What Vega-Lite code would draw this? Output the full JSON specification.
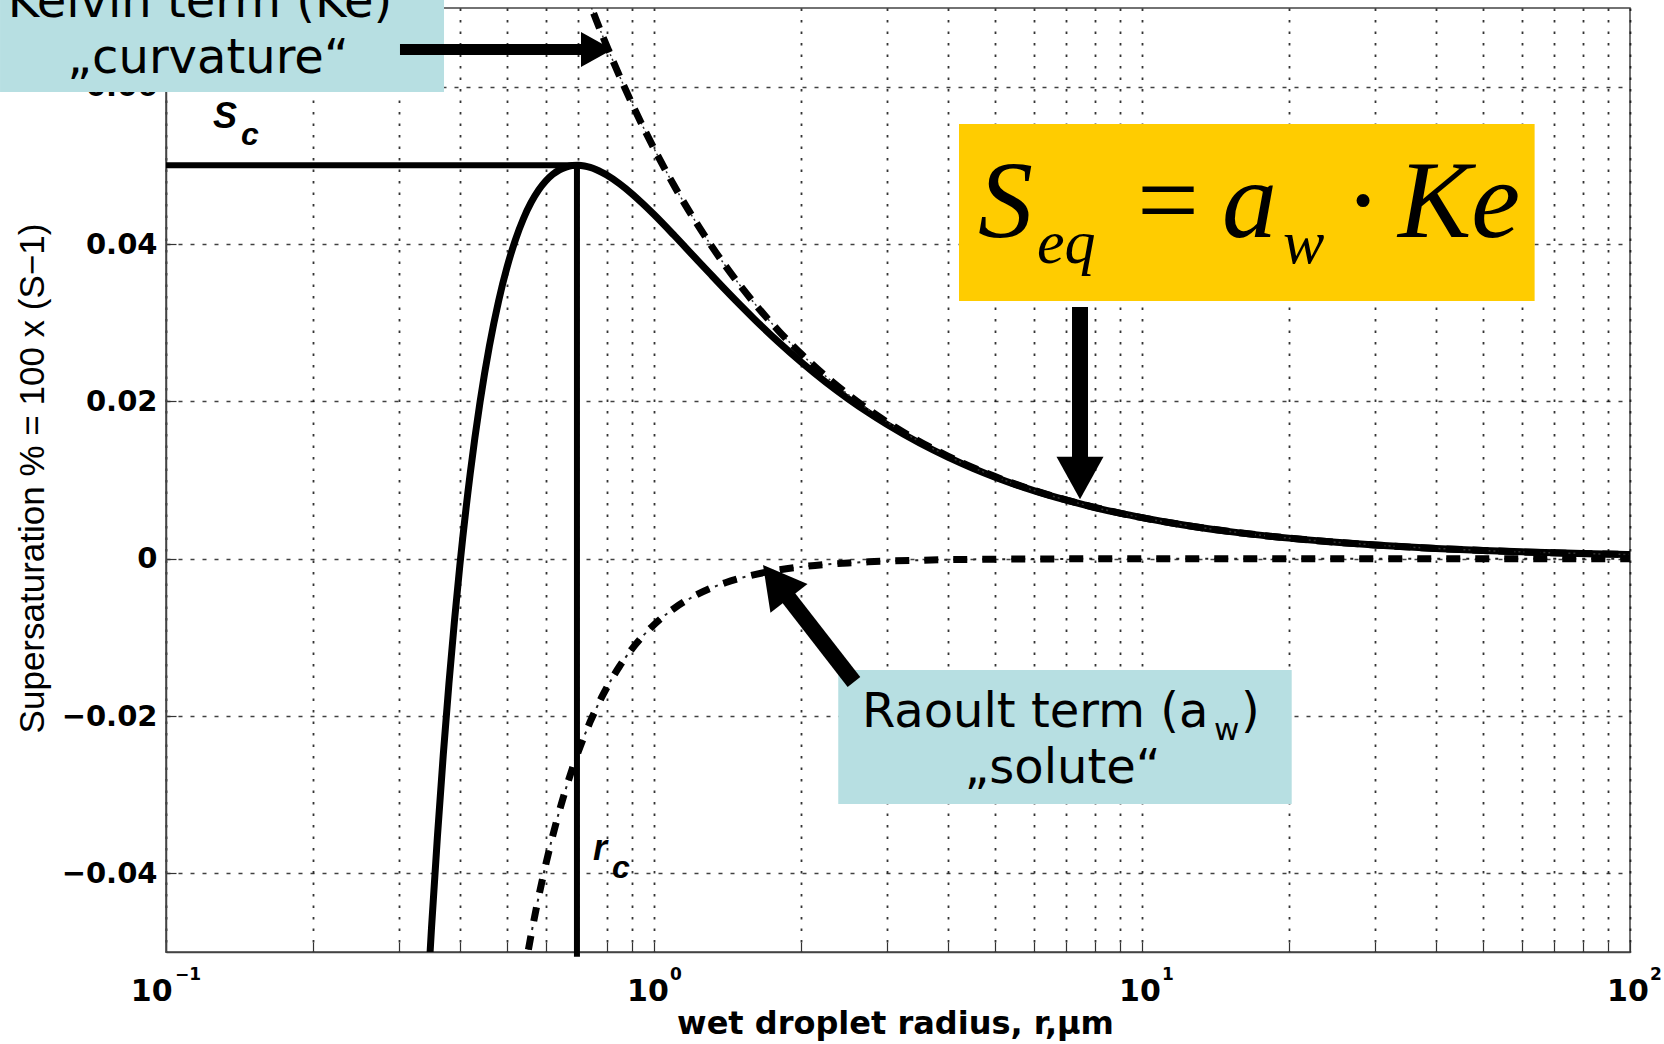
{
  "$schema": "https://vega.github.io/schema/vega-lite/v6.json",
  "width": 1464,
  "height": 944,
  "autosize": {"type": "none"},
  "padding": {"left": 166, "top": 8, "right": 34, "bottom": 92},
  "background": "white",
  "config": {"view": {"stroke": "#444", "strokeWidth": 1.5}},
  "datasets": {
    "kohler": [
      {"r":0.34,"s":-0.06037},{"r":0.35,"s":-0.04695},{"r":0.36,"s":-0.03521},{"r":0.37,"s":-0.02491},{"r":0.38,"s":-0.01587},{"r":0.39,"s":-0.00792},{"r":0.40,"s":-0.00090},{"r":0.42,"s":0.01076},{"r":0.44,"s":0.01989},{"r":0.46,"s":0.02705},{"r":0.48,"s":0.03267},{"r":0.50,"s":0.03708},{"r":0.52,"s":0.04053},{"r":0.54,"s":0.04321},{"r":0.56,"s":0.04528},{"r":0.58,"s":0.04685},{"r":0.60,"s":0.04801},{"r":0.62,"s":0.04885},{"r":0.64,"s":0.04943},{"r":0.66,"s":0.04978},{"r":0.68,"s":0.04997},{"r":0.70,"s":0.05000},{"r":0.72,"s":0.04991},{"r":0.74,"s":0.04973},{"r":0.76,"s":0.04947},{"r":0.78,"s":0.04915},{"r":0.80,"s":0.04877},{"r":0.85,"s":0.04766},{"r":0.90,"s":0.04641},{"r":0.95,"s":0.04508},{"r":1.0,"s":0.04374},{"r":1.1,"s":0.04109},{"r":1.2,"s":0.03859},{"r":1.3,"s":0.03629},{"r":1.4,"s":0.03418},{"r":1.5,"s":0.03227},{"r":1.6,"s":0.03054},{"r":1.8,"s":0.02753},{"r":2.0,"s":0.02502},{"r":2.25,"s":0.02243},{"r":2.5,"s":0.02032},{"r":2.75,"s":0.01856},{"r":3.0,"s":0.01707},{"r":3.5,"s":0.01470},{"r":4,"s":0.01291},{"r":4.5,"s":0.01150},{"r":5,"s":0.01036},{"r":6,"s":0.00865},{"r":7,"s":0.00743},{"r":8,"s":0.00650},{"r":9,"s":0.00578},{"r":10,"s":0.00521},{"r":12,"s":0.00434},{"r":15,"s":0.00347},{"r":20,"s":0.00261},{"r":25,"s":0.00209},{"r":30,"s":0.00174},{"r":40,"s":0.00130},{"r":50,"s":0.00104},{"r":60,"s":0.00087},{"r":70,"s":0.00075},{"r":80,"s":0.00065},{"r":100,"s":0.00052}
    ],
    "kelvin": [
      {"r":0.72,"s":0.07242},{"r":0.74,"s":0.07046},{"r":0.76,"s":0.06861},{"r":0.78,"s":0.06685},{"r":0.80,"s":0.06518},{"r":0.85,"s":0.06134},{"r":0.90,"s":0.05793},{"r":0.95,"s":0.05488},{"r":1.0,"s":0.05214},{"r":1.1,"s":0.04740},{"r":1.2,"s":0.04345},{"r":1.3,"s":0.04011},{"r":1.4,"s":0.03724},{"r":1.5,"s":0.03476},{"r":1.6,"s":0.03259},{"r":1.8,"s":0.02897},{"r":2.0,"s":0.02607},{"r":2.25,"s":0.02317},{"r":2.5,"s":0.02086},{"r":2.75,"s":0.01896},{"r":3.0,"s":0.01738},{"r":3.5,"s":0.01490},{"r":4,"s":0.01304},{"r":5,"s":0.01043},{"r":6,"s":0.00869},{"r":8,"s":0.00652},{"r":10,"s":0.00521},{"r":15,"s":0.00348},{"r":20,"s":0.00261},{"r":30,"s":0.00174},{"r":50,"s":0.00104},{"r":100,"s":0.00052}
    ],
    "raoult": [
      {"r":0.54,"s":-0.05335},{"r":0.56,"s":-0.04783},{"r":0.58,"s":-0.04305},{"r":0.60,"s":-0.03889},{"r":0.62,"s":-0.03525},{"r":0.64,"s":-0.03204},{"r":0.66,"s":-0.02922},{"r":0.68,"s":-0.02671},{"r":0.70,"s":-0.02449},{"r":0.72,"s":-0.02251},{"r":0.74,"s":-0.02073},{"r":0.76,"s":-0.01914},{"r":0.78,"s":-0.01770},{"r":0.80,"s":-0.01641},{"r":0.85,"s":-0.01368},{"r":0.90,"s":-0.01152},{"r":0.95,"s":-0.00980},{"r":1.0,"s":-0.00840},{"r":1.1,"s":-0.00631},{"r":1.2,"s":-0.00486},{"r":1.3,"s":-0.00382},{"r":1.4,"s":-0.00306},{"r":1.5,"s":-0.00249},{"r":1.6,"s":-0.00205},{"r":1.8,"s":-0.00144},{"r":2.0,"s":-0.00105},{"r":2.25,"s":-0.00074},{"r":2.5,"s":-0.00054},{"r":2.75,"s":-0.00040},{"r":3.0,"s":-0.00031},{"r":3.5,"s":-0.00020},{"r":4,"s":-0.00013},{"r":5,"s":-0.00007},{"r":6,"s":-0.00004},{"r":8,"s":-0.00002},{"r":10,"s":-0.00001},{"r":20,"s":0},{"r":50,"s":0},{"r":100,"s":0}
    ]
  },
  "layer": [
    {
      "data": {"name": "kohler"},
      "mark": {"type": "line", "color": "black", "strokeWidth": 7, "clip": true, "interpolate": "monotone"},
      "encoding": {
        "x": {
          "field": "r", "type": "quantitative",
          "scale": {"type": "log", "domain": [0.1, 100], "nice": false},
          "axis": {
            "values": [0.1,0.2,0.3,0.4,0.5,0.6,0.7,0.8,0.9,1,2,3,4,5,6,7,8,9,10,20,30,40,50,60,70,80,90,100],
            "labels": false,
            "tickSize": -10, "tickColor": "#333", "tickWidth": 1.2,
            "grid": true, "gridColor": "#111", "gridDash": [2.5, 9], "gridWidth": 1.8, "gridOpacity": 0.85,
            "domainColor": "#444", "domainWidth": 1.5,
            "title": "wet droplet radius, r,µm", "titleFont": "DejaVu Sans", "titleFontWeight": "bold", "titleFontSize": 32, "titleColor": "black",
            "titleX": 729, "titleY": 81, "titleBaseline": "alphabetic", "titleAlign": "center"
          }
        },
        "y": {
          "field": "s", "type": "quantitative",
          "scale": {"domain": [-0.05, 0.07], "nice": false, "zero": false},
          "axis": {
            "values": [-0.04, -0.02, 0, 0.02, 0.04, 0.06],
            "labelExpr": "datum.value == 0 ? '0' : format(datum.value, '.2f')",
            "labelFont": "DejaVu Sans", "labelFontWeight": "bold", "labelFontSize": 29, "labelColor": "black",
            "labelPadding": 19, "labelFlush": false, "labelOverlap": false,
            "tickSize": -10, "tickColor": "#333", "tickWidth": 1.2,
            "grid": true, "gridColor": "#111", "gridDash": [4, 8], "gridWidth": 1.5, "gridOpacity": 0.8,
            "domainColor": "#444", "domainWidth": 1.5,
            "title": "Supersaturation % = 100 x (S−1)", "titleFont": "Liberation Sans", "titleFontWeight": "normal", "titleFontSize": 35, "titleColor": "black",
            "titleAngle": -90, "titleX": -123, "titleY": 470, "titleBaseline": "alphabetic", "titleAlign": "center"
          }
        }
      }
    },
    {
      "data": {"values": [
        {"x": 0.09348, "y": -0.056193, "t": "10"},
        {"x": 0.97207, "y": -0.056193, "t": "10"},
        {"x": 9.9060, "y": -0.056193, "t": "10"},
        {"x": 99.06, "y": -0.056193, "t": "10"}
      ]},
      "mark": {"type": "text", "font": "DejaVu Sans", "fontWeight": "bold", "fontSize": 30, "align": "center", "baseline": "alphabetic", "color": "black"},
      "encoding": {"x": {"field": "x", "type": "quantitative"}, "y": {"field": "y", "type": "quantitative"}, "text": {"field": "t"}}
    },
    {
      "data": {"values": [
        {"x": 0.10434, "y": -0.053559, "t": "−1"},
        {"x": 1.0784, "y": -0.053559, "t": "0"},
        {"x": 10.989, "y": -0.053559, "t": "1"},
        {"x": 109.89, "y": -0.053559, "t": "2"}
      ]},
      "mark": {"type": "text", "font": "DejaVu Sans", "fontWeight": "bold", "fontSize": 17, "align": "left", "baseline": "alphabetic", "color": "black"},
      "encoding": {"x": {"field": "x", "type": "quantitative"}, "y": {"field": "y", "type": "quantitative"}, "text": {"field": "t"}}
    },
    {
      "data": {"name": "kelvin"},
      "mark": {"type": "line", "color": "#333", "strokeWidth": 1.5, "strokeDash": [2, 3], "clip": true, "interpolate": "monotone"},
      "encoding": {"x": {"field": "r", "type": "quantitative"}, "y": {"field": "s", "type": "quantitative"}}
    },
    {
      "data": {"name": "kelvin"},
      "mark": {"type": "line", "color": "black", "strokeWidth": 7, "strokeDash": [16, 10], "clip": true, "interpolate": "monotone"},
      "encoding": {"x": {"field": "r", "type": "quantitative"}, "y": {"field": "s", "type": "quantitative"}}
    },
    {
      "data": {"name": "raoult"},
      "mark": {"type": "line", "color": "#222", "strokeWidth": 2, "strokeDash": [14, 6, 3, 6], "clip": true, "interpolate": "monotone"},
      "encoding": {"x": {"field": "r", "type": "quantitative"}, "y": {"field": "s", "type": "quantitative"}}
    },
    {
      "data": {"name": "raoult"},
      "mark": {"type": "line", "color": "black", "strokeWidth": 7, "strokeDash": [14, 15], "clip": true, "interpolate": "monotone"},
      "encoding": {"x": {"field": "r", "type": "quantitative"}, "y": {"field": "s", "type": "quantitative"}}
    },
    {
      "data": {"values": [
        {"x": 0.1, "y": 0.05, "x2": 0.6952, "y2": 0.05},
        {"x": 0.6952, "y": 0.05, "x2": 0.6952, "y2": -0.0506}
      ]},
      "mark": {"type": "rule", "color": "black", "strokeWidth": 6, "strokeCap": "butt"},
      "encoding": {"x": {"field": "x", "type": "quantitative"}, "y": {"field": "y", "type": "quantitative"}, "x2": {"field": "x2"}, "y2": {"field": "y2"}}
    },
    {
      "data": {"values": [
        {"box": "kelvin", "x": 0.0457, "x2": 0.3713, "y": 0.07229, "y2": 0.05932},
        {"box": "raoult", "x": 2.3854, "x2": 20.267, "y": -0.014153, "y2": -0.031186}
      ]},
      "mark": {"type": "rect", "color": "#b7dfe2", "opacity": 1},
      "encoding": {"x": {"field": "x", "type": "quantitative"}, "x2": {"field": "x2"}, "y": {"field": "y", "type": "quantitative"}, "y2": {"field": "y2"}}
    },
    {
      "data": {"values": [{"box": "formula", "x": 4.217, "x2": 63.76, "y": 0.055254, "y2": 0.032754}]},
      "mark": {"type": "rect", "color": "#ffcc00", "opacity": 1},
      "encoding": {"x": {"field": "x", "type": "quantitative"}, "x2": {"field": "x2"}, "y": {"field": "y", "type": "quantitative"}, "y2": {"field": "y2"}}
    },
    {
      "data": {"values": [
        {"x": 0.11739, "y": 0.068856, "t": "Kelvin term (Ke)"},
        {"x": 0.12191, "y": 0.061737, "t": "„curvature“"},
        {"x": 6.8727, "y": -0.028555, "t": "„solute“"}
      ]},
      "mark": {"type": "text", "font": "DejaVu Sans", "fontSize": 48, "align": "center", "baseline": "alphabetic", "color": "black"},
      "encoding": {"x": {"field": "x", "type": "quantitative"}, "y": {"field": "y", "type": "quantitative"}, "text": {"field": "t"}}
    },
    {
      "data": {"values": [
        {"x": 2.6687, "y": -0.021436, "t": "Raoult term (a"},
        {"x": 15.954, "y": -0.021436, "t": ")"}
      ]},
      "mark": {"type": "text", "font": "DejaVu Sans", "fontSize": 48, "align": "left", "baseline": "alphabetic", "color": "black"},
      "encoding": {"x": {"field": "x", "type": "quantitative"}, "y": {"field": "y", "type": "quantitative"}, "text": {"field": "t"}}
    },
    {
      "data": {"values": [{"x": 14.046, "y": -0.023051, "t": "w"}]},
      "mark": {"type": "text", "font": "DejaVu Sans", "fontSize": 31, "align": "left", "baseline": "alphabetic", "color": "black"},
      "encoding": {"x": {"field": "x", "type": "quantitative"}, "y": {"field": "y", "type": "quantitative"}, "text": {"field": "t"}}
    },
    {
      "data": {"values": [
        {"x": 4.612, "y": 0.040928, "t": "S"},
        {"x": 14.586, "y": 0.040928, "t": "a"},
        {"x": 33.46, "y": 0.040928, "t": "Ke"}
      ]},
      "mark": {"type": "text", "font": "Liberation Serif", "fontStyle": "italic", "fontSize": 110, "align": "left", "baseline": "alphabetic", "color": "black"},
      "encoding": {"x": {"field": "x", "type": "quantitative"}, "y": {"field": "y", "type": "quantitative"}, "text": {"field": "t"}}
    },
    {
      "data": {"values": [
        {"x": 11.304, "y": 0.040928, "t": "="},
        {"x": 28.37, "y": 0.040928, "t": "·"}
      ]},
      "mark": {"type": "text", "font": "Liberation Serif", "fontSize": 110, "align": "center", "baseline": "alphabetic", "color": "black"},
      "encoding": {"x": {"field": "x", "type": "quantitative"}, "y": {"field": "y", "type": "quantitative"}, "text": {"field": "t"}}
    },
    {
      "data": {"values": [
        {"x": 6.0932, "y": 0.037585, "t": "eq"},
        {"x": 19.45, "y": 0.037585, "t": "w"}
      ]},
      "mark": {"type": "text", "font": "Liberation Serif", "fontStyle": "italic", "fontSize": 62, "align": "left", "baseline": "alphabetic", "color": "black"},
      "encoding": {"x": {"field": "x", "type": "quantitative"}, "y": {"field": "y", "type": "quantitative"}, "text": {"field": "t"}}
    },
    {
      "data": {"values": [
        {"x": 0.12481, "y": 0.054746, "t": "S"},
        {"x": 0.7499, "y": -0.038305, "t": "r"}
      ]},
      "mark": {"type": "text", "font": "Liberation Sans", "fontStyle": "italic", "fontWeight": "bold", "fontSize": 36, "align": "left", "baseline": "alphabetic", "color": "black"},
      "encoding": {"x": {"field": "x", "type": "quantitative"}, "y": {"field": "y", "type": "quantitative"}, "text": {"field": "t"}}
    },
    {
      "data": {"values": [
        {"x": 0.14245, "y": 0.052585, "t": "c"},
        {"x": 0.82018, "y": -0.040593, "t": "c"}
      ]},
      "mark": {"type": "text", "font": "Liberation Sans", "fontStyle": "italic", "fontWeight": "bold", "fontSize": 32, "align": "left", "baseline": "alphabetic", "color": "black"},
      "encoding": {"x": {"field": "x", "type": "quantitative"}, "y": {"field": "y", "type": "quantitative"}, "text": {"field": "t"}}
    },
    {
      "data": {"values": [{"x": 0.30163, "y": 0.0647246, "x2": 0.76318, "y2": 0.0647246}]},
      "mark": {"type": "rule", "color": "black", "strokeWidth": 11, "strokeCap": "butt"},
      "encoding": {"x": {"field": "x", "type": "quantitative"}, "y": {"field": "y", "type": "quantitative"}, "x2": {"field": "x2"}, "y2": {"field": "y2"}}
    },
    {
      "data": {"values": [
        {"x": 7.4639, "y": 0.031991, "x2": 7.4639, "y2": 0.010254},
        {"x": 2.569, "y": -0.015678, "x2": 1.7783, "y2": -0.002928}
      ]},
      "mark": {"type": "rule", "color": "black", "strokeWidth": 16, "strokeCap": "butt"},
      "encoding": {"x": {"field": "x", "type": "quantitative"}, "y": {"field": "y", "type": "quantitative"}, "x2": {"field": "x2"}, "y2": {"field": "y2"}}
    },
    {
      "data": {"values": [{"x": 0.76318, "y": 0.0647246}]},
      "mark": {"type": "point", "shape": "M -0.9 -1 L 0.9 0 L -0.9 1 Z", "size": 1225, "angle": 0, "filled": true, "color": "black", "opacity": 1, "strokeWidth": 0},
      "encoding": {"x": {"field": "x", "type": "quantitative"}, "y": {"field": "y", "type": "quantitative"}}
    },
    {
      "data": {"values": [{"x": 7.4639, "y": 0.010254}]},
      "mark": {"type": "point", "shape": "M -0.9 -1 L 0.9 0 L -0.9 1 Z", "size": 2209, "angle": 90, "filled": true, "color": "black", "opacity": 1, "strokeWidth": 0},
      "encoding": {"x": {"field": "x", "type": "quantitative"}, "y": {"field": "y", "type": "quantitative"}}
    },
    {
      "data": {"values": [{"x": 1.7783, "y": -0.002928}]},
      "mark": {"type": "point", "shape": "M -0.9 -1 L 0.9 0 L -0.9 1 Z", "size": 2209, "angle": 232.1, "filled": true, "color": "black", "opacity": 1, "strokeWidth": 0},
      "encoding": {"x": {"field": "x", "type": "quantitative"}, "y": {"field": "y", "type": "quantitative"}}
    }
  ]
}
